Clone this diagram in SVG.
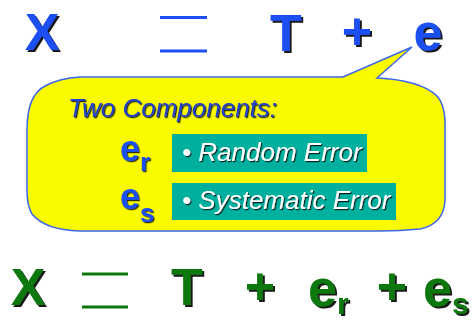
<svg xmlns="http://www.w3.org/2000/svg" width="473" height="320" viewBox="0 0 473 320">
<defs>
<filter id="sh" x="-20%" y="-20%" width="150%" height="150%">
<feDropShadow dx="2" dy="2" stdDeviation="0.4" flood-color="#000" flood-opacity="0.9"/>
</filter>
<filter id="shs" x="-20%" y="-20%" width="150%" height="150%">
<feDropShadow dx="1.2" dy="1.2" stdDeviation="0.3" flood-color="#000" flood-opacity="0.8"/>
</filter>
</defs>
<style>
.big{font-family:"Liberation Sans",Arial,sans-serif;font-weight:bold;font-size:52px;text-anchor:middle}
.bigs{font-family:"Liberation Sans",Arial,sans-serif;font-weight:bold;font-size:52px;text-anchor:start}
.blue{fill:#1f4ff2}
.green{fill:#0c780c}
.eq-b{stroke:#1f4ff2;stroke-width:3}
.eq-g{stroke:#0c780c;stroke-width:3}
.it{font-family:"Liberation Sans",Arial,sans-serif;font-style:italic;font-size:26px}
.box{fill:#00b09e}
.sym{font-family:"Liberation Sans",Arial,sans-serif;font-weight:bold;fill:#1f4ff2}
</style>
<g id="top-equation">
<text class="big blue" x="42" y="50" filter="url(#sh)">X</text>
<line class="eq-b" x1="160" y1="17.5" x2="207" y2="17.5"/>
<line class="eq-b" x1="160" y1="51" x2="207" y2="51"/>
<text class="big blue" x="286" y="51" filter="url(#sh)">T</text>
<text class="big blue" x="357" y="49" filter="url(#sh)">+</text>
<text class="big blue" x="428" y="50" filter="url(#sh)">e</text>
</g>
<g id="callout">
<path d="M80,77 L343,77 L412,47 L377,78 Q420,80 437,96 Q446,106 445,130 L445,200 Q444,224 420,229 Q400,231 380,231 L80,231 Q45,230 32,214 Q27,206 27,190 L27,130 Q27,95 45,86 Q60,78 80,77 Z" fill="#fafa00" stroke="#3a66ee" stroke-width="1.5"/>
<text class="it" x="68" y="117" fill="#2040cc" filter="url(#shs)">Two Components:</text>
</g>
<g id="er-item">
<text class="sym" x="120" y="161" font-size="36" filter="url(#shs)">e<tspan font-size="26" dy="10">r</tspan></text>
<rect class="box" x="172" y="134" width="195" height="38"/>
<text class="it" x="182" y="161" fill="#fff" filter="url(#shs)">• Random Error</text>
</g>
<g id="es-item">
<text class="sym" x="120" y="209" font-size="36" filter="url(#shs)">e<tspan font-size="26" dy="13">s</tspan></text>
<rect class="box" x="172" y="183" width="224" height="37"/>
<text class="it" x="182" y="209" fill="#fff" filter="url(#shs)">• Systematic Error</text>
</g>
<g id="bottom-equation">
<text class="big green" x="28" y="305" filter="url(#sh)">X</text>
<line class="eq-g" x1="82" y1="274" x2="128" y2="274"/>
<line class="eq-g" x1="82" y1="307" x2="128" y2="307"/>
<text class="big green" x="187" y="305" filter="url(#sh)">T</text>
<text class="big green" x="260" y="304" filter="url(#sh)">+</text>
<text class="bigs green" x="308" y="306" filter="url(#sh)">e<tspan font-size="30" dy="8">r</tspan></text>
<text class="big green" x="392" y="304" filter="url(#sh)">+</text>
<text class="bigs green" x="423" y="306" filter="url(#sh)">e<tspan font-size="30" dy="8">s</tspan></text>
</g>
</svg>
